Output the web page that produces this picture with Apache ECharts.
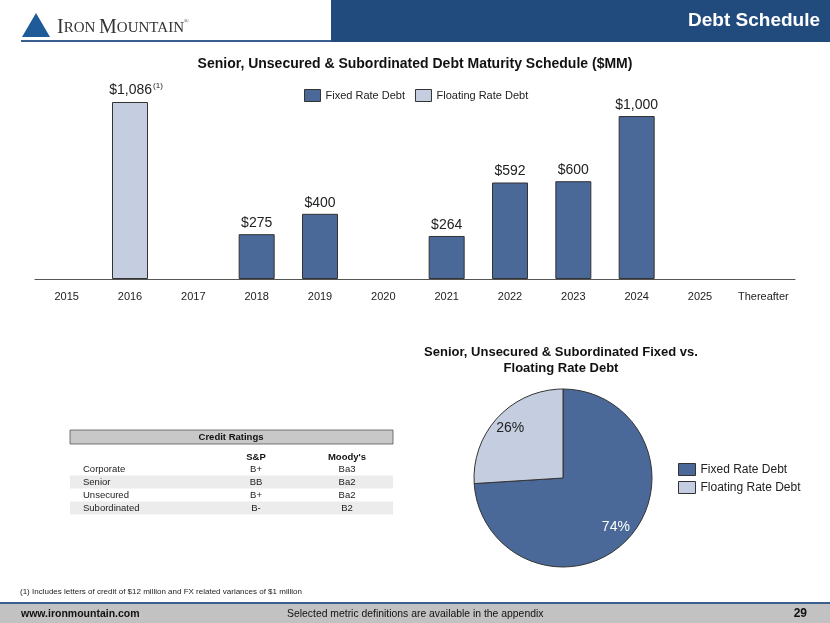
<!DOCTYPE html>
<html><head><meta charset="utf-8">
<script src="https://cdn.jsdelivr.net/npm/echarts@6/dist/echarts.min.js"></script>
<style>html,body{margin:0;padding:0;background:#fff}#c{width:830px;height:623px}</style>
</head><body><div id="c"></div>
<script>
var categories = ['2015','2016','2017','2018','2019','2020','2021','2022','2023','2024','2025','Thereafter'];
var fixedRate = [null,null,null,275,400,null,264,592,600,1000,null,null];
var floatingRate = [null,1086,null,null,null,null,null,null,null,null,null,null];
var pieNames = ['Fixed Rate Debt','Floating Rate Debt'];
var pieValues = [74,26];
var ratingRows = ['Corporate','Senior','Unsecured','Subordinated'];
var spRatings = ['B+','BB','B+','B-'];
var moodysRatings = ['Ba3','Ba2','Ba2','B2'];

var FIX = '#4a6898', FLT = '#c4cee0', EDGE = '#333';
var F = 'Liberation Sans, Arial, sans-serif';
var chart = echarts.init(document.getElementById('c'));

var g = [];
// header
g.push({type:'rect',shape:{x:331,y:0,width:499,height:42},style:{fill:'#214a7d'}});
g.push({type:'text',style:{x:820,y:21,text:'Debt Schedule',fill:'#fff',font:'bold 19px '+F,textAlign:'right',textVerticalAlign:'middle'}});
g.push({type:'rect',shape:{x:21,y:40,width:310,height:2},style:{fill:'#3a5f8f'}});
g.push({type:'polygon',shape:{points:[[36,13],[50,37],[22,37]]},style:{fill:'#1f5a99'}});
g.push({type:'text',style:{x:57,y:38,text:'{a|I}{b|RON }{a|M}{b|OUNTAIN}{c|®}',textVerticalAlign:'bottom',
  rich:{a:{font:'20px Liberation Serif, serif',fill:'#333'},b:{font:'15px Liberation Serif, serif',fill:'#333'},c:{font:'6px serif',fill:'#333',verticalAlign:'top'}}}});
// bar title
g.push({type:'text',style:{x:415,y:64,text:'Senior, Unsecured & Subordinated Debt Maturity Schedule ($MM)',fill:'#111',font:'bold 14px '+F,textAlign:'center',textVerticalAlign:'middle'}});
// pie title
g.push({type:'text',style:{x:561,y:360,text:'Senior, Unsecured & Subordinated Fixed vs.\nFloating Rate Debt',fill:'#111',font:'bold 13px '+F,textAlign:'center',textVerticalAlign:'middle',lineHeight:16}});
// table
g.push({type:'rect',shape:{x:70,y:430,width:323,height:14},style:{fill:'#c8c8c8',stroke:'#555',lineWidth:0.8}});
g.push({type:'text',style:{x:231,y:437,text:'Credit Ratings',fill:'#111',font:'bold 9.5px '+F,textAlign:'center',textVerticalAlign:'middle'}});
g.push({type:'text',style:{x:256,y:457,text:'S&P',fill:'#111',font:'bold 9.5px '+F,textAlign:'center',textVerticalAlign:'middle'}});
g.push({type:'text',style:{x:347,y:457,text:"Moody's",fill:'#111',font:'bold 9.5px '+F,textAlign:'center',textVerticalAlign:'middle'}});
ratingRows.forEach(function(r,i){
  var y = 469 + i*13;
  if (i%2===1) g.push({type:'rect',shape:{x:70,y:y-6.5,width:323,height:13},style:{fill:'#ececec'}});
  g.push({type:'text',style:{x:83,y:y,text:r,fill:'#222',font:'9.5px '+F,textVerticalAlign:'middle'}});
  g.push({type:'text',style:{x:256,y:y,text:spRatings[i],fill:'#222',font:'9.5px '+F,textAlign:'center',textVerticalAlign:'middle'}});
  g.push({type:'text',style:{x:347,y:y,text:moodysRatings[i],fill:'#222',font:'9.5px '+F,textAlign:'center',textVerticalAlign:'middle'}});
});
// footnote & footer
g.push({type:'text',style:{x:20,y:592,text:'(1) Includes letters of credit of $12 million and FX related variances of $1 million',fill:'#222',font:'8px '+F,textVerticalAlign:'middle'}});
g.push({type:'rect',shape:{x:0,y:602,width:830,height:2},style:{fill:'#3a5f8f'}});
g.push({type:'rect',shape:{x:0,y:604,width:830,height:19},style:{fill:'#c2c2c2'}});
g.push({type:'text',style:{x:21,y:614,text:'www.ironmountain.com',fill:'#111',font:'bold 10.5px '+F,textVerticalAlign:'middle'}});
g.push({type:'text',style:{x:287,y:614,text:'Selected metric definitions are available in the appendix',fill:'#111',font:'10.4px '+F,textVerticalAlign:'middle'}});
g.push({type:'text',style:{x:807,y:614,text:'29',fill:'#111',font:'bold 12px '+F,textAlign:'right',textVerticalAlign:'middle'}});

var valLabel = {show:true,position:'top',distance:4,fontFamily:F,fontSize:14,color:'#222',
  formatter:function(p){ return p.value==null?'':'$'+p.value.toLocaleString('en-US'); }};

chart.setOption({
  animation:false,
  graphic:g,
  legend:[
    {data:['Fixed Rate Debt','Floating Rate Debt'],left:299,top:84,icon:'rect',itemWidth:16,itemHeight:12,itemGap:10,
     textStyle:{fontFamily:F,fontSize:11,color:'#222'},itemStyle:{borderColor:EDGE,borderWidth:1}},
    {data:pieNames,orient:'vertical',left:673,top:458,icon:'rect',itemWidth:17,itemHeight:12,itemGap:5,
     textStyle:{fontFamily:F,fontSize:12,color:'#222'},itemStyle:{borderColor:EDGE,borderWidth:1}}
  ],
  grid:{left:35,right:35,top:102,bottom:344,containLabel:false},
  xAxis:{type:'category',data:categories,axisTick:{show:false},
    axisLine:{lineStyle:{color:'#555',width:1}},
    axisLabel:{interval:0,fontFamily:F,fontSize:11,color:'#222',margin:12}},
  yAxis:{type:'value',min:0,max:1086,show:false,splitLine:{show:false}},
  series:[
    {name:'Fixed Rate Debt',type:'bar',stack:'d',data:fixedRate,barWidth:36,
     itemStyle:{color:FIX,borderColor:EDGE,borderWidth:1},label:valLabel},
    {name:'Floating Rate Debt',type:'bar',stack:'d',data:floatingRate,barWidth:36,
     itemStyle:{color:FLT,borderColor:EDGE,borderWidth:1},
     label:{show:true,position:'top',distance:4,offset:[6,0],fontFamily:F,fontSize:14,color:'#222',
       formatter:function(p){ return p.value==null?'':'$'+p.value.toLocaleString('en-US')+'{s|(1)}'; },
       rich:{s:{fontSize:8,fontFamily:F,color:'#222',verticalAlign:'top',padding:[0,0,8,1]}}}},
    {name:'pie',type:'pie',center:[563,478],radius:[0,89],startAngle:90,clockwise:true,
     data:pieNames.map(function(n,i){return {name:n,value:pieValues[i],itemStyle:{color:i===0?FIX:FLT}};}),
     itemStyle:{borderColor:EDGE,borderWidth:1},label:{show:false},labelLine:{show:false},emphasis:{disabled:true}},
    {name:'pieLabels',type:'pie',center:[563,478],radius:[50,89],startAngle:90,clockwise:true,silent:true,
     legendHoverLink:false,
     data:pieNames.map(function(n,i){return {name:n,value:pieValues[i],
       itemStyle:{color:'rgba(0,0,0,0)',borderWidth:0},
       label:{color:i===0?'#fff':'#222'}};}),
     label:{show:true,position:'inside',fontFamily:F,fontSize:14,formatter:'{c}%'},
     labelLine:{show:false},emphasis:{disabled:true}}
  ]
});
</script></body></html>
